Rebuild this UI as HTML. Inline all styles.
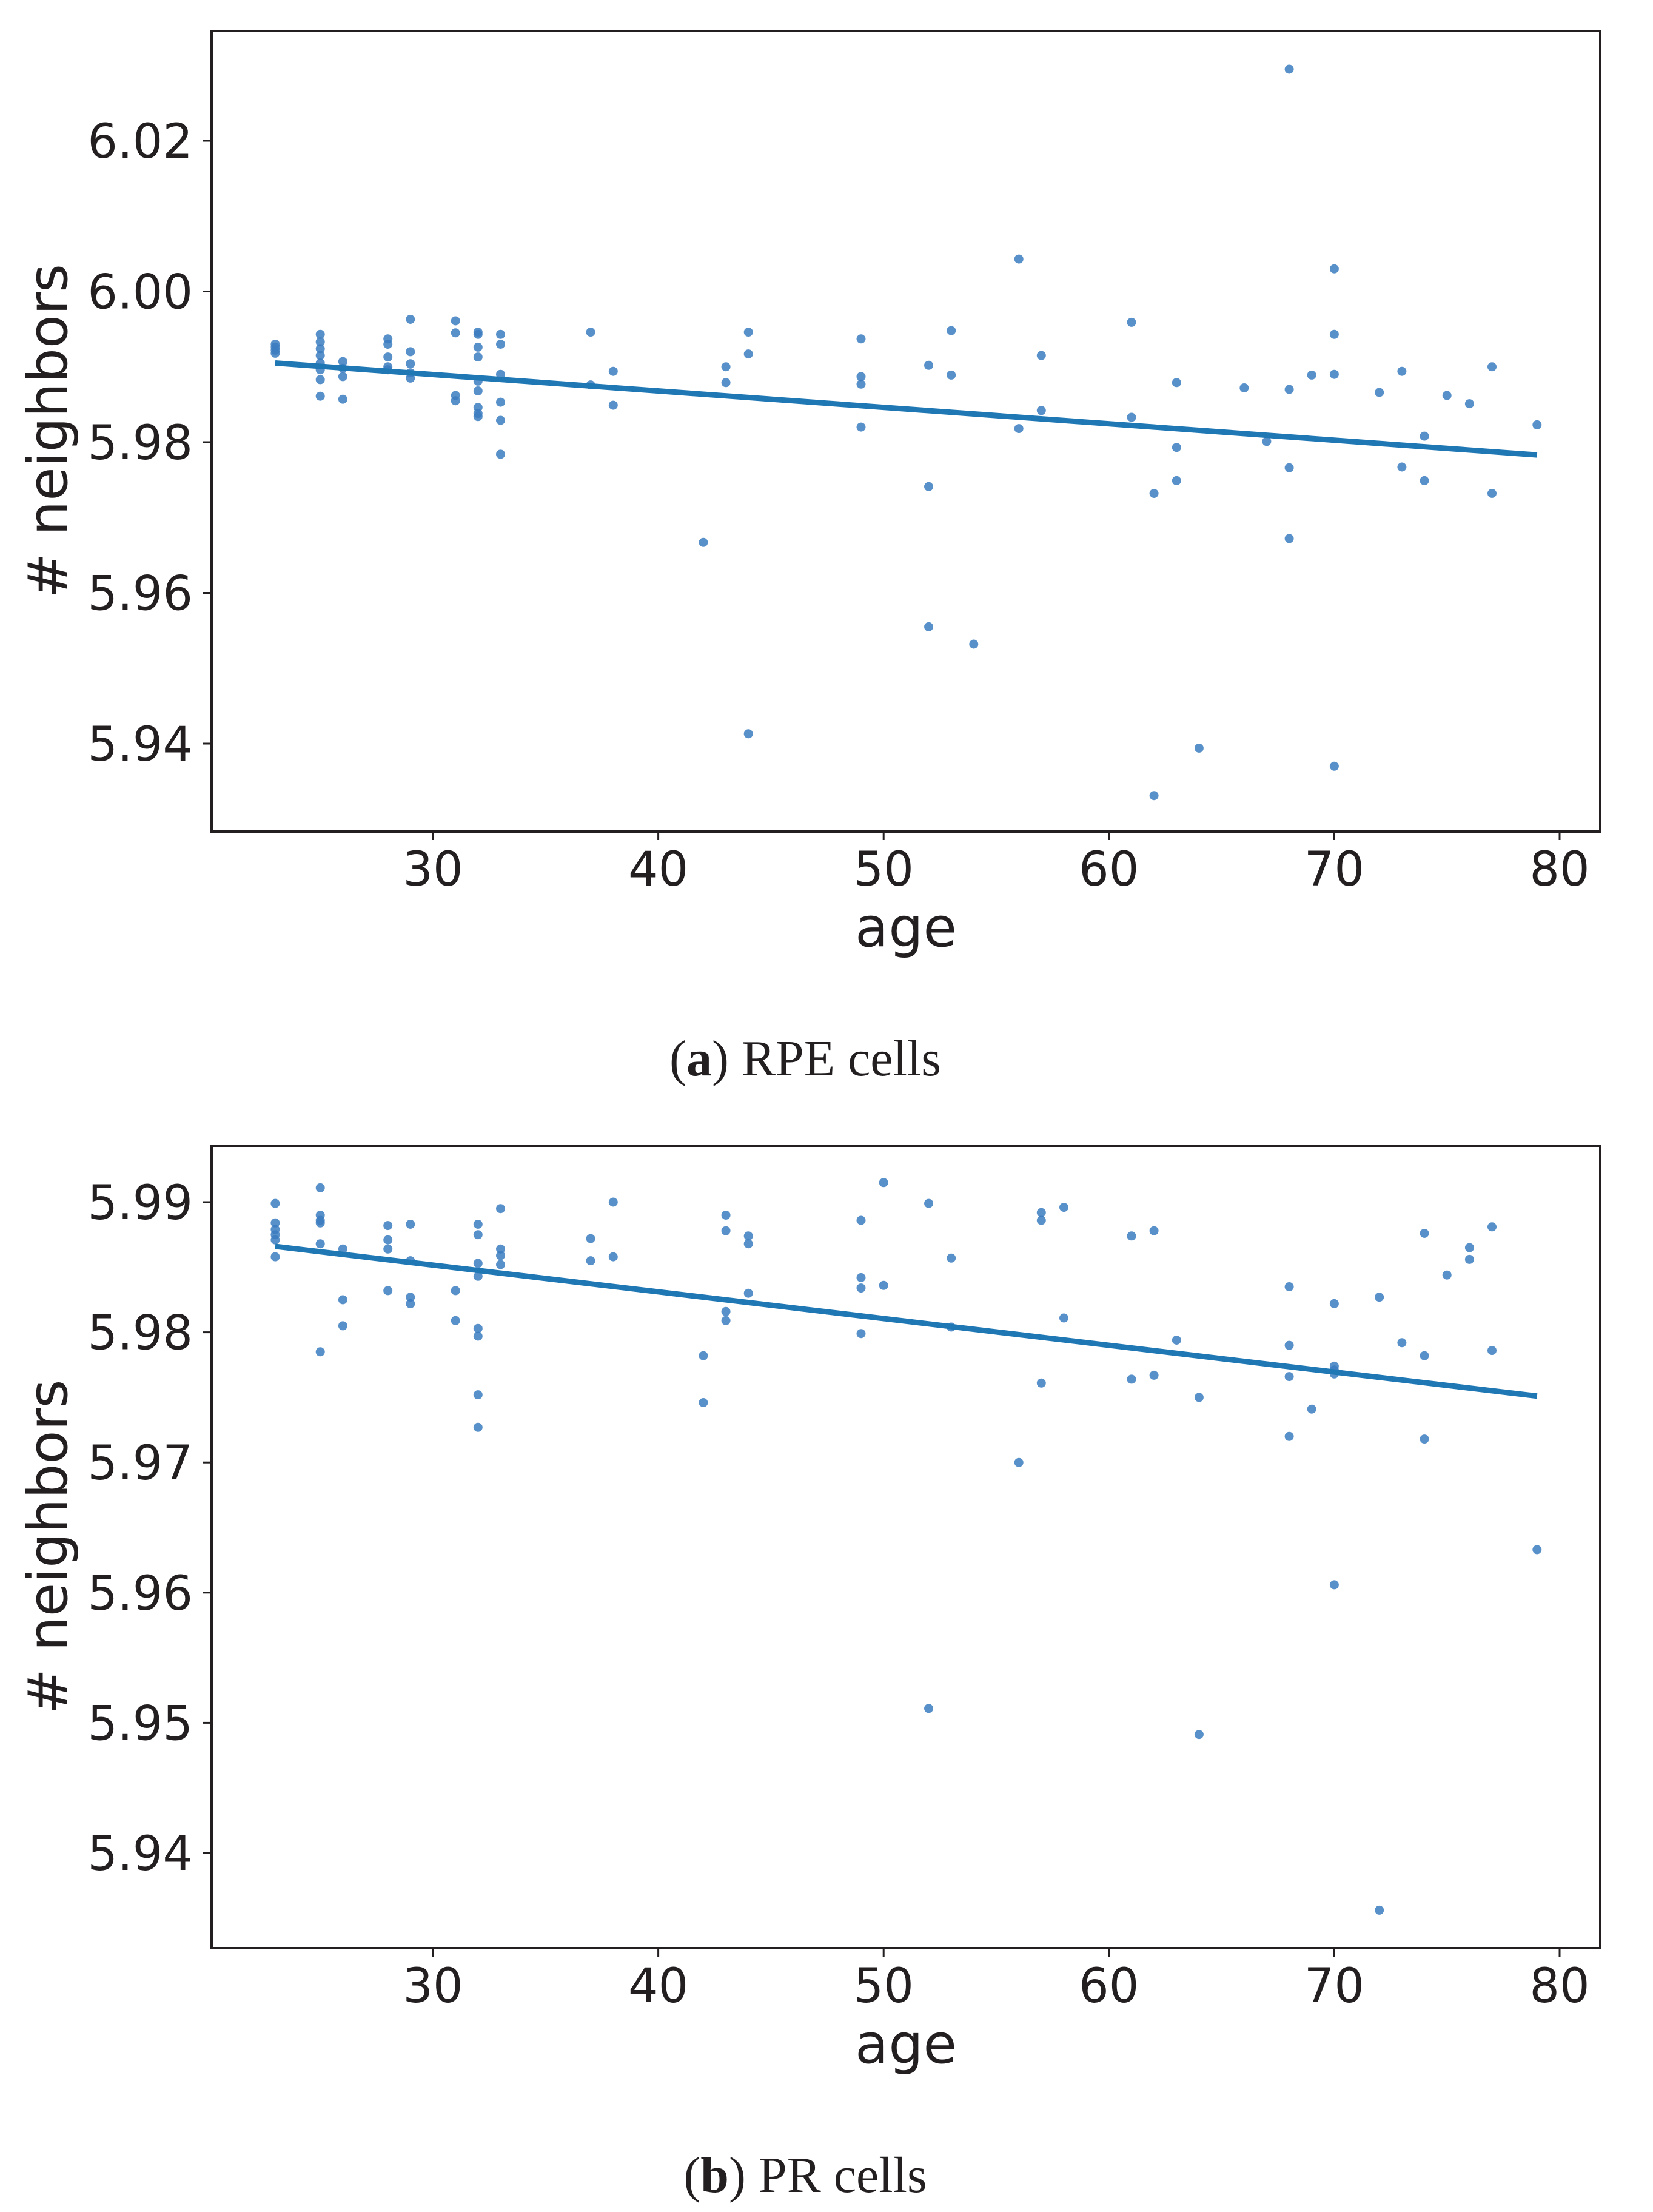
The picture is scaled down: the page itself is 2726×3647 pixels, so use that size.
<!DOCTYPE html>
<html>
<head>
<meta charset="utf-8">
<style>
html,body{margin:0;padding:0;background:#fff;}
svg{display:block;}
.tick{font-family:"DejaVu Sans","Liberation Sans",sans-serif;font-size:78px;fill:#231f20;}
.axlab{font-family:"DejaVu Sans","Liberation Sans",sans-serif;font-size:90px;fill:#231f20;}
.cap{font-family:"Liberation Serif",serif;font-size:84px;fill:#231f20;}
</style>
</head>
<body>
<svg id="fig" width="2726" height="3647" viewBox="0 0 2726 3647" xmlns="http://www.w3.org/2000/svg">
<rect width="2726" height="3647" fill="#fff"/>
<text class="cap" x="1328" y="1773" text-anchor="middle">(<tspan font-weight="bold">a</tspan>) RPE cells</text>
<text class="cap" x="1328" y="3614" text-anchor="middle">(<tspan font-weight="bold">b</tspan>) PR cells</text>
</svg>
<script>
// ---- Panel A (RPE cells) data ----
const rpeAges = [23,23,23,23,25,25,25,25,25,25,25,25,26,26,26,26,28,28,28,28,28,29,29,29,29,29,31,31,31,31,32,32,32,32,32,32,32,32,32,33,33,33,33,33,33,37,37,38,38,42,43,43,44,44,44,49,49,49,49,52,52,52,53,53,54,56,56,57,57,61,61,62,62,63,63,63,64,66,67,68,68,68,68,69,70,70,70,70,72,73,73,74,74,75,76,77,77,79];
const rpeValues = [5.9930,5.9926,5.9922,5.9918,5.9943,5.9933,5.9924,5.9915,5.9905,5.9896,5.9883,5.9861,5.9907,5.9898,5.9887,5.9857,5.9937,5.9930,5.9913,5.9900,5.9896,5.9963,5.9920,5.9904,5.9892,5.9885,5.9961,5.9945,5.9862,5.9855,5.9946,5.9943,5.9926,5.9913,5.9881,5.9868,5.9846,5.9838,5.9834,5.9943,5.9930,5.9890,5.9853,5.9829,5.9784,5.9946,5.9876,5.9894,5.9849,5.9667,5.9900,5.9879,5.9946,5.9917,5.9413,5.9937,5.9887,5.9877,5.9820,5.9902,5.9741,5.9555,5.9948,5.9889,5.9532,6.0043,5.9818,5.9915,5.9842,5.9959,5.9833,5.9732,5.9331,5.9879,5.9793,5.9749,5.9394,5.9872,5.9801,6.0295,5.9870,5.9766,5.9672,5.9889,6.0030,5.9943,5.9890,5.9370,5.9866,5.9894,5.9767,5.9808,5.9749,5.9862,5.9851,5.9900,5.9732,5.9823];
const rpeFitAges = [23,79];
const rpeFitValues = [5.9905,5.9783];
const rpeYTicks = [5.94,5.96,5.98,6.00,6.02];
const rpeYTickLabels = ["5.94","5.96","5.98","6.00","6.02"];

// ---- Panel B (PR cells) data ----
const prAges = [23,23,23,23,23,23,25,25,25,25,25,25,26,26,26,28,28,28,28,29,29,29,29,31,31,32,32,32,32,32,32,32,32,33,33,33,33,37,37,38,38,42,42,43,43,43,43,44,44,44,49,49,49,49,50,50,52,52,53,53,56,57,57,57,58,58,61,61,62,62,63,64,64,68,68,68,68,69,70,70,70,70,70,72,72,73,74,74,74,75,76,76,77,77,79];
const prValues = [5.9899,5.9884,5.9879,5.9875,5.9871,5.9858,5.9911,5.9890,5.9886,5.9884,5.9868,5.9785,5.9864,5.9825,5.9805,5.9882,5.9871,5.9864,5.9832,5.9883,5.9855,5.9827,5.9822,5.9832,5.9809,5.9883,5.9875,5.9853,5.9843,5.9803,5.9797,5.9752,5.9727,5.9895,5.9864,5.9859,5.9852,5.9872,5.9855,5.9900,5.9858,5.9782,5.9746,5.9890,5.9878,5.9816,5.9809,5.9874,5.9868,5.9830,5.9886,5.9842,5.9834,5.9799,5.9915,5.9836,5.9899,5.9511,5.9857,5.9804,5.9700,5.9892,5.9886,5.9761,5.9896,5.9811,5.9874,5.9764,5.9878,5.9767,5.9794,5.9750,5.9491,5.9835,5.9790,5.9766,5.9720,5.9741,5.9822,5.9774,5.9771,5.9768,5.9606,5.9827,5.9356,5.9792,5.9876,5.9782,5.9718,5.9844,5.9865,5.9856,5.9881,5.9786,5.9633];
const prFitAges = [23,79];
const prFitValues = [5.9866,5.9751];
const prYTicks = [5.94,5.95,5.96,5.97,5.98,5.99];
const prYTickLabels = ["5.94","5.95","5.96","5.97","5.98","5.99"];

const xTicks = [30,40,50,60,70,80];
const xTickLabels = ["30","40","50","60","70","80"];

const NS = "http://www.w3.org/2000/svg";
const svg = document.getElementById('fig');
function mk(tag, attrs, parent){
  const e = document.createElementNS(NS, tag);
  for (const k in attrs) e.setAttribute(k, attrs[k]);
  (parent||svg).appendChild(e);
  return e;
}
const L = 349, R = 2639;
function xScale(a){ return 714 + (a - 30) * 37.16; }

function panel(id, top, bottom, yRef, yRefPx, pxPerUnit, ages, vals, fitA, fitV, yt, ytl){
  const g = mk('g', {});
  
  
  const yScale = v => yRefPx + (yRef - v) * pxPerUnit;
  const pts = mk('g', {}, g);
  
  
  for (let i = 0; i < ages.length; i++){
    const c = mk('circle', {cx: xScale(ages[i]).toFixed(1), cy: yScale(vals[i]).toFixed(1), r: 7.5, fill: '#3b7dc0', 'fill-opacity': 0.85}, pts);
    
    
  }
  const ln = mk('line', {x1: xScale(fitA[0]), y1: yScale(fitV[0]), x2: xScale(fitA[1]), y2: yScale(fitV[1]), stroke: '#1f77b4', 'stroke-width': 9, 'stroke-linecap': 'butt'}, g);
  
  
  const fr = mk('rect', {x: L, y: top, width: R - L, height: bottom - top, fill: 'none', stroke: '#231f20', 'stroke-width': 4}, g);
  
  
  for (let i = 0; i < yt.length; i++){
    const y = yScale(yt[i]);
    const t = mk('line', {x1: L - 14, y1: y, x2: L, y2: y, stroke: '#231f20', 'stroke-width': 3}, g);
    
    
    const tx = mk('text', {x: 318, y: y + 28, 'text-anchor': 'end', class: 'tick'}, g);
    tx.textContent = ytl[i];
    
    
  }
  for (let i = 0; i < xTicks.length; i++){
    const x = xScale(xTicks[i]);
    const t = mk('line', {x1: x, y1: bottom, x2: x, y2: bottom + 14, stroke: '#231f20', 'stroke-width': 3}, g);
    
    
    const tx = mk('text', {x: x, y: bottom + 89, 'text-anchor': 'middle', class: 'tick'}, g);
    tx.textContent = xTickLabels[i];
    
    
  }
  const xl = mk('text', {x: 1494, y: bottom + 189, 'text-anchor': 'middle', class: 'axlab'}, g);
  xl.textContent = 'age';
  
  
  const cy = (top + bottom) / 2;
  const yl = mk('text', {x: 0, y: 0, 'text-anchor': 'middle', class: 'axlab', transform: 'translate(110,' + cy + ') rotate(-90)'}, g);
  yl.textContent = '# neighbors';
  
  
}
panel('rpe', 51, 1371, 6.02, 232, 12425, rpeAges, rpeValues, rpeFitAges, rpeFitValues, rpeYTicks, rpeYTickLabels);
panel('pr', 1889, 3212, 5.99, 1982, 21460, prAges, prValues, prFitAges, prFitValues, prYTicks, prYTickLabels);
</script>
</body>
</html>
